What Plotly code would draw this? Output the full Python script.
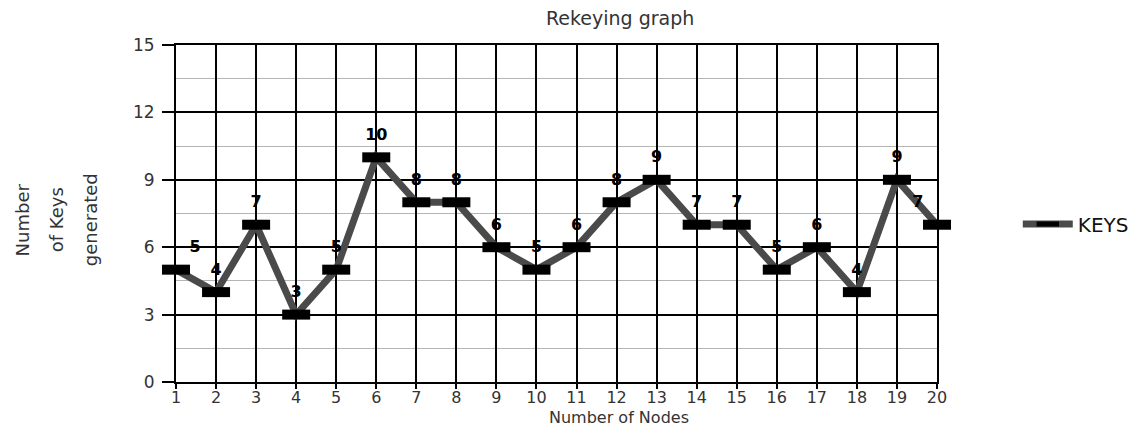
import plotly.graph_objects as go

# Rekeying results: keys generated for each node count
nodes = list(range(1, 21))
keys = [5, 4, 7, 3, 5, 10, 8, 8, 6, 5, 6, 8, 9, 7, 7, 5, 6, 4, 9, 7]
series_name = "KEYS"
y_ticks = [0, 3, 6, 9, 12, 15]

FONT = "DejaVu Sans"
TXT = "#333333"

# keep the end labels inside the frame
positions = ["top center"] * len(nodes)
positions[0] = "top right"
positions[-1] = "top left"

fig = go.Figure()
fig.add_trace(go.Scatter(
    x=nodes,
    y=keys,
    mode="lines+markers+text",
    name=series_name,
    text=[str(v) for v in keys],
    textposition=positions,
    textfont=dict(family=FONT, size=16, color="#000000", weight="bold"),
    line=dict(color="#4a4a4a", width=7),
    marker=dict(symbol="line-ew", size=20, line=dict(color="#000000", width=10)),
    cliponaxis=False,
))

L, R, T, B = 176, 207, 45, 46
W, H = 1146, 428
pw = W - L - R
ph = H - T - B


def px_to_paper_x(px):
    return (px - L) / pw


def px_to_paper_y(py):
    return (H - B - py) / ph


fig.update_layout(
    width=W,
    height=H,
    margin=dict(l=L, r=R, t=T, b=B, pad=0),
    paper_bgcolor="white",
    plot_bgcolor="white",
    font=dict(family=FONT, size=17, color=TXT),
    showlegend=True,
    legend=dict(
        x=px_to_paper_x(1020), y=px_to_paper_y(224),
        xanchor="left", yanchor="middle",
        font=dict(family=FONT, size=20, color="#111111"),
        bgcolor="rgba(0,0,0,0)",
        itemwidth=50,
    ),
    xaxis=dict(
        range=[1, 20],
        tickmode="array",
        tickvals=nodes,
        ticktext=[str(n) for n in nodes],
        showgrid=True,
        gridcolor="#000000",
        gridwidth=2,
        showline=True,
        linecolor="#000000",
        linewidth=2,
        mirror=True,
        ticks="outside",
        ticklen=5,
        tickwidth=2,
        tickcolor="#000000",
        tickfont=dict(family=FONT, size=16, color=TXT),
        ticklabelstandoff=-5,
        zeroline=False,
    ),
    yaxis=dict(
        range=[0, 15],
        tickmode="array",
        tickvals=y_ticks,
        showgrid=True,
        gridcolor="#000000",
        gridwidth=1.5,
        showline=True,
        linecolor="#000000",
        linewidth=2,
        mirror=True,
        ticks="outside",
        ticklen=12,
        tickwidth=1.5,
        tickcolor="#000000",
        tickfont=dict(family=FONT, size=17, color=TXT),
        ticklabelstandoff=4,
        zeroline=False,
        minor=dict(dtick=1.5, tick0=0, showgrid=True, gridcolor="#b5b5b5", gridwidth=1),
    ),
)

# chart title and x-axis title
fig.add_annotation(
    text="Rekeying graph", xref="paper", yref="paper",
    x=px_to_paper_x(621), y=px_to_paper_y(18),
    xanchor="center", yanchor="middle", showarrow=False,
    font=dict(family=FONT, size=19, color=TXT),
)
fig.add_annotation(
    text="Number of Nodes", xref="paper", yref="paper",
    x=px_to_paper_x(620), y=px_to_paper_y(418),
    xanchor="center", yanchor="middle", showarrow=False,
    font=dict(family=FONT, size=16, color=TXT),
)

# y-axis title, three rotated lines
for line_text, cx in [("Number", 22), ("of Keys", 56), ("generated", 90)]:
    fig.add_annotation(
        text=line_text, xref="paper", yref="paper",
        x=px_to_paper_x(cx), y=px_to_paper_y(220),
        xanchor="center", yanchor="middle", showarrow=False,
        textangle=-90,
        font=dict(family=FONT, size=18, color=TXT),
    )

fig.write_html("out.html")
